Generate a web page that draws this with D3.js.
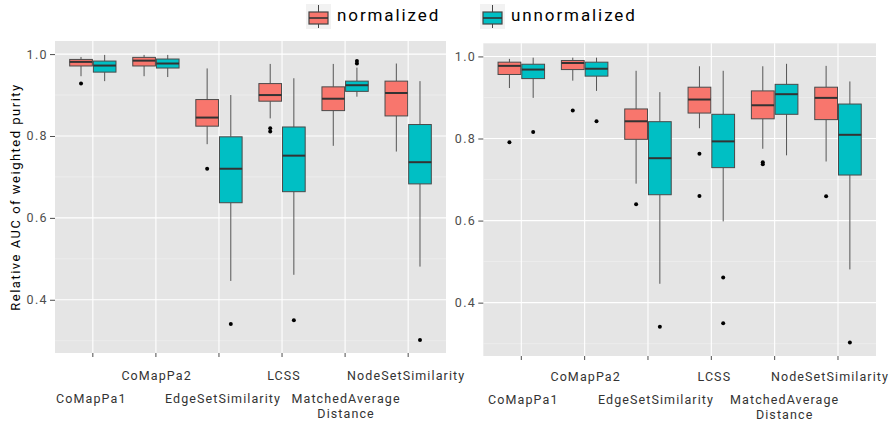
<!DOCTYPE html>
<html>
<head>
<meta charset="utf-8">
<script src="https://cdn.jsdelivr.net/npm/d3@7"></script>
<style>
  body { margin: 0; background: #fff; }
  text { font-family: Roboto, "Open Sans", sans-serif; }
</style>
</head>
<body>
<div id="chart"></div>
<script>
// data
var categories = ["CoMapPa1", "CoMapPa2", "EdgeSetSimilarity", "LCSS", "MatchedAverage\nDistance", "NodeSetSimilarity"];
var seriesNames = ["normalized", "unnormalized"];
var yTicks = [0.4, 0.6, 0.8, 1.0];
var yMinor = [0.3, 0.5, 0.7, 0.9];

// [whisker low, q1, median, q3, whisker high]
var leftNormalized = [
  [0.946, 0.971, 0.981, 0.987, 0.993],
  [0.946, 0.971, 0.984, 0.992, 0.998],
  [0.780, 0.824, 0.845, 0.889, 0.965],
  [0.843, 0.885, 0.900, 0.928, 0.976],
  [0.776, 0.862, 0.891, 0.920, 0.976],
  [0.762, 0.849, 0.905, 0.934, 0.977]
];
var leftNormalizedOut = [[0.928], [], [0.720], [0.819, 0.811], [], []];

var leftUnnormalized = [
  [0.934, 0.956, 0.972, 0.983, 0.998],
  [0.944, 0.966, 0.977, 0.988, 0.998],
  [0.446, 0.637, 0.720, 0.798, 0.900],
  [0.461, 0.664, 0.752, 0.822, 0.941],
  [0.896, 0.909, 0.924, 0.934, 0.967],
  [0.481, 0.683, 0.736, 0.828, 0.934]
];
var leftUnnormalizedOut = [[], [], [0.341], [0.350], [0.983, 0.977], [0.302]];

var rightNormalized = [
  [0.923, 0.956, 0.977, 0.986, 0.994],
  [0.941, 0.968, 0.984, 0.990, 0.997],
  [0.690, 0.798, 0.842, 0.872, 0.965],
  [0.825, 0.862, 0.895, 0.925, 0.976],
  [0.775, 0.848, 0.881, 0.916, 0.976],
  [0.744, 0.846, 0.899, 0.925, 0.977]
];
var rightNormalizedOut = [[0.791], [0.868], [0.640], [0.763, 0.660], [0.742, 0.737], [0.659]];

var rightUnnormalized = [
  [0.899, 0.946, 0.968, 0.981, 0.997],
  [0.916, 0.952, 0.970, 0.986, 0.997],
  [0.446, 0.663, 0.752, 0.841, 0.913],
  [0.598, 0.729, 0.793, 0.859, 0.965],
  [0.759, 0.859, 0.908, 0.932, 0.982],
  [0.481, 0.711, 0.809, 0.884, 0.939]
];
var rightUnnormalizedOut = [[0.816], [0.842], [0.341], [0.461, 0.350], [], [0.303]];

var colors = ["#F8766D", "#00BFC4"];

var svg = d3.select('#chart').append('svg')
  .attr('width', 894)
  .attr('height', 422);

// y axis title
svg.append('text')
  .attr('transform', 'translate(20,197) rotate(-90)')
  .attr('text-anchor', 'middle')
  .style('font-size', '13px')
  .style('letter-spacing', '1.5px')
  .attr('fill', '#000')
  .text('Relative AUC of weighted purity');

function drawPanel(box, norm, normOut, unnorm, unnormOut) {
  var x = d3.scalePoint()
    .domain(categories)
    .range([box.left, box.right])
    .padding(0.6);

  var y = d3.scaleLinear()
    .domain([0.27, 1.032])
    .range([box.bottom, box.top]);

  var g = svg.append('g');

  g.append('rect')
    .attr('x', box.left)
    .attr('y', box.top)
    .attr('width', box.right - box.left)
    .attr('height', box.bottom - box.top)
    .attr('fill', '#E5E5E5');

  // minor grid
  g.selectAll('.minor').data(yMinor).enter().append('line')
    .attr('x1', box.left).attr('x2', box.right)
    .attr('y1', d => y(d)).attr('y2', d => y(d))
    .attr('stroke', '#F2F2F2')
    .attr('stroke-width', 0.6);

  // major grid
  g.selectAll('.major').data(yTicks).enter().append('line')
    .attr('x1', box.left).attr('x2', box.right)
    .attr('y1', d => y(d)).attr('y2', d => y(d))
    .attr('stroke', '#fff')
    .attr('stroke-width', 1.1);

  g.selectAll('.vgrid').data(categories).enter().append('line')
    .attr('x1', d => x(d)).attr('x2', d => x(d))
    .attr('y1', box.top).attr('y2', box.bottom)
    .attr('stroke', '#fff')
    .attr('stroke-width', 1.1);

  // y axis
  var leftAxis = d3.axisLeft(y).tickValues(yTicks).tickSize(5).tickFormat(d3.format('.1f'));
  var ya = g.append('g')
    .attr('transform', `translate(${box.left},0)`)
    .call(leftAxis);
  ya.select('.domain').remove();
  ya.selectAll('line').attr('stroke', '#4d4d4d');
  ya.selectAll('text')
    .attr('x', -7)
    .attr('fill', '#4d4d4d')
    .style('font-size', '12.5px')
    .style('letter-spacing', '1.4px')
    .style('font-family', 'Roboto, sans-serif');

  // x axis ticks
  g.selectAll('.xtick').data(categories).enter().append('line')
    .attr('x1', d => x(d)).attr('x2', d => x(d))
    .attr('y1', box.bottom).attr('y2', box.bottom + 4)
    .attr('stroke', '#4d4d4d');

  // staggered x labels
  var lab = g.selectAll('.xlab').data(categories).enter().append('text')
    .attr('text-anchor', 'middle')
    .attr('fill', '#333')
    .style('font-size', '12.5px')
    .style('letter-spacing', '1.1px');
  lab.each(function(d, i) {
    var t = d3.select(this);
    var lines = d.split('\n');
    var y0 = i % 2 === 1 ? box.rowTop : box.rowLow;
    lines.forEach(function(l, k) {
      t.append('tspan')
        .attr('x', x(d) + box.labelShift[i])
        .attr('y', y0 + k * box.lineGap)
        .text(l);
    });
  });

  var bw = x.step() * 0.75 / 2;
  var series = [
    {stats: norm, out: normOut, off: -bw, color: colors[0]},
    {stats: unnorm, out: unnormOut, off: 0, color: colors[1]}
  ];

  series.forEach(function(s) {
    var sg = g.append('g');
    var items = s.stats.map(function(v, i) { return {cat: categories[i], v: v, out: s.out[i]}; });
    var ent = sg.selectAll('g').data(items).enter().append('g')
      .attr('transform', d => `translate(${x(d.cat) + s.off},0)`);

    // whiskers
    ent.append('line')
      .attr('x1', bw / 2).attr('x2', bw / 2)
      .attr('y1', d => y(d.v[3])).attr('y2', d => y(d.v[4]))
      .attr('stroke', '#555').attr('stroke-width', 1);
    ent.append('line')
      .attr('x1', bw / 2).attr('x2', bw / 2)
      .attr('y1', d => y(d.v[0])).attr('y2', d => y(d.v[1]))
      .attr('stroke', '#555').attr('stroke-width', 1);

    ent.append('rect')
      .attr('x', 0.5)
      .attr('width', bw - 1)
      .attr('y', d => y(d.v[3]))
      .attr('height', d => y(d.v[1]) - y(d.v[3]))
      .attr('fill', s.color)
      .attr('stroke', '#4a4a4a')
      .attr('stroke-width', 1);

    ent.append('line')
      .attr('x1', 0.5).attr('x2', bw - 0.5)
      .attr('y1', d => y(d.v[2])).attr('y2', d => y(d.v[2]))
      .attr('stroke', '#333').attr('stroke-width', 2);

    ent.selectAll('circle').data(d => d.out).enter().append('circle')
      .attr('cx', bw / 2)
      .attr('cy', d => y(d))
      .attr('r', 2)
      .attr('fill', '#000');
  });
}

drawPanel({left: 55, right: 446, top: 41, bottom: 353,
           rowTop: 380, rowLow: 403, lineGap: 15,
           labelShift: [-1.5, 0.7, 4, 2, 1, -2]},
  leftNormalized, leftNormalizedOut, leftUnnormalized, leftUnnormalizedOut);
drawPanel({left: 483.3, right: 876, top: 43.3, bottom: 356,
           rowTop: 381, rowLow: 404, lineGap: 14.5,
           labelShift: [2, 1, 8, 3, 10, -8]},
  rightNormalized, rightNormalizedOut, rightUnnormalized, rightUnnormalizedOut);

// legend
var legend = svg.append('g');
var legX = [306, 480];
seriesNames.forEach(function(name, i) {
  var lg = legend.append('g').attr('transform', `translate(${legX[i]},4)`);
  lg.append('rect').attr('width', 25).attr('height', 25).attr('fill', '#F2F2F2');
  lg.append('line').attr('x1', 12.5).attr('x2', 12.5).attr('y1', 1).attr('y2', 24)
    .attr('stroke', '#444').attr('stroke-width', 1);
  lg.append('rect').attr('x', 3).attr('y', 8).attr('width', 19).attr('height', 12)
    .attr('fill', colors[i]).attr('stroke', '#444').attr('stroke-width', 1.2);
  lg.append('line').attr('x1', 3).attr('x2', 22).attr('y1', 14).attr('y2', 14)
    .attr('stroke', '#333').attr('stroke-width', 1.6);
  lg.append('text')
    .attr('x', 31)
    .attr('y', 17)
    .style('font-size', '17px')
    .style('letter-spacing', '1.9px')
    .attr('fill', '#000')
    .text(name);
});
</script>
</body>
</html>
